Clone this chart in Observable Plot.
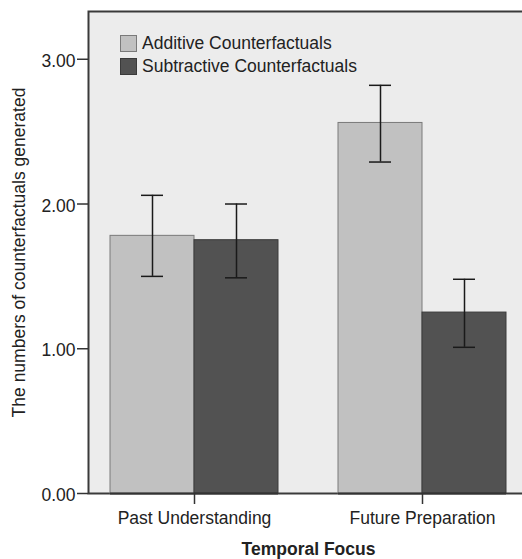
<!DOCTYPE html>
<html>
<head>
<meta charset="utf-8">
<script src="https://cdn.jsdelivr.net/npm/d3@7"></script>
<script src="https://cdn.jsdelivr.net/npm/@observablehq/plot@0.6"></script>
<style>
  html, body { margin: 0; padding: 0; background: #fff; }
  #wrap { position: relative; width: 522px; height: 559px; overflow: hidden; font-family: "Liberation Sans", Arial, sans-serif; }
  #wrap > .layer { position: absolute; left: 0; top: 0; }
  #legend { position: absolute; left: 120px; top: 32px; font-size: 17.5px; color: #222; line-height: 23px; }
  #legend .row { display: flex; align-items: center; height: 23px; }
  #legend .sw { width: 15px; height: 15px; border: 1px solid #777; margin-right: 5px; }
  g[aria-label="fx-axis label"] text, g[aria-label="fx-axis label"] { font-weight: bold; }
</style>
</head>
<body>
<div id="wrap"></div>
<script>
const focus = ["Past Understanding", "Future Preparation"];
const types = ["Additive Counterfactuals", "Subtractive Counterfactuals"];
const additiveMeans = [1.78, 2.56];
const subtractiveMeans = [1.75, 1.25];
const additiveLow = [1.50, 2.29];
const additiveHigh = [2.06, 2.82];
const subtractiveLow = [1.49, 1.01];
const subtractiveHigh = [2.00, 1.48];
const yTicks = [0, 1, 2, 3];
const yLabel = "The numbers of counterfactuals generated";
const xLabel = "Temporal Focus";

const colors = ["#c1c1c1", "#525252"];
const strokes = ["#7a7a7a", "#3a3a3a"];

const rows = [];
focus.forEach((f, i) => {
  rows.push({focus: f, type: types[0], mean: additiveMeans[i], lo: additiveLow[i], hi: additiveHigh[i]});
  rows.push({focus: f, type: types[1], mean: subtractiveMeans[i], lo: subtractiveLow[i], hi: subtractiveHigh[i]});
});

const dims = {width: 522, height: 559, marginLeft: 88, marginRight: -5, marginTop: 11, marginBottom: 66};
const font = {fontFamily: "Liberation Sans, Arial, sans-serif", fontSize: "17.5px", color: "#222", background: "transparent"};
const yDomain = [0, 3.33];

const bg = Plot.plot({
  ...dims,
  style: font,
  x: {axis: null},
  y: {domain: yDomain},
  marks: [
    Plot.frame({fill: "#ececec", stroke: "#3a3a3a", strokeWidth: 2}),
    Plot.axisY({ticks: yTicks, tickFormat: () => "", tickSize: 11, stroke: "#333", strokeWidth: 1.5, label: null}),
    Plot.axisY({ticks: yTicks, tickFormat: d3.format(".2f"), tickSize: 0, tickPadding: 13, dy: 2, fill: "#222", label: yLabel, labelAnchor: "center", labelArrow: "none", labelOffset: 76})
  ]
});
bg.classList.add("layer");

const main = Plot.plot({
  ...dims,
  style: font,
  fx: {domain: focus, paddingInner: 60 / 228, paddingOuter: 21 / 228},
  x: {domain: types, padding: 0, axis: null},
  y: {domain: yDomain, axis: null},
  color: {domain: types, range: colors},
  marks: [
    Plot.barY(rows, {fx: "focus", x: "type", y: "mean", fill: "type", stroke: d => strokes[types.indexOf(d.type)], strokeWidth: 1, inset: 0}),
    Plot.ruleX(rows, {fx: "focus", x: "type", y1: "lo", y2: "hi", stroke: "#1a1a1a", strokeWidth: 1.5}),
    Plot.tickY(rows, {fx: "focus", x: "type", y: "lo", stroke: "#1a1a1a", strokeWidth: 1.5, insetLeft: 31, insetRight: 31}),
    Plot.tickY(rows, {fx: "focus", x: "type", y: "hi", stroke: "#1a1a1a", strokeWidth: 1.5, insetLeft: 31, insetRight: 31}),
    Plot.ruleY([0], {stroke: "#333", strokeWidth: 2}),
    Plot.axisFx({anchor: "bottom", tickSize: 11, tickPadding: 7, stroke: "#333", strokeWidth: 1.5, fill: "#222", label: xLabel, labelAnchor: "center", labelArrow: "none", labelOffset: 61})
  ]
});
main.classList.add("layer");

const legend = document.createElement("div");
legend.id = "legend";
types.forEach((t, i) => {
  const row = document.createElement("div");
  row.className = "row";
  const sw = document.createElement("span");
  sw.className = "sw";
  sw.style.background = colors[i];
  sw.style.borderColor = strokes[i];
  const lab = document.createElement("span");
  lab.textContent = t;
  row.append(sw, lab);
  legend.append(row);
});

const wrap = document.getElementById("wrap");
wrap.append(bg, main, legend);
</script>
</body>
</html>
